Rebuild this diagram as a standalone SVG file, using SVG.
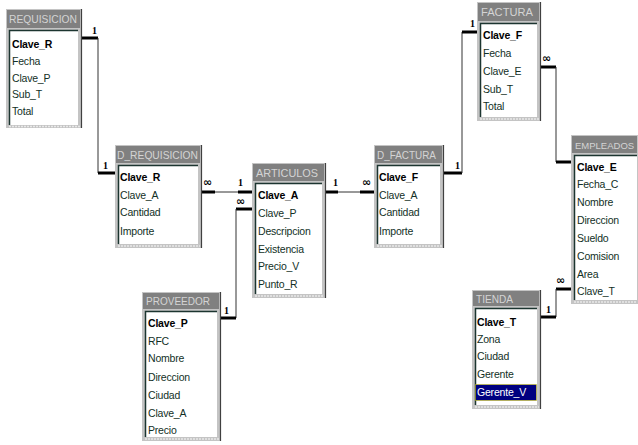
<svg xmlns="http://www.w3.org/2000/svg" width="638" height="445" viewBox="0 0 638 445">
<style>
.frame{fill:#c4c4c4}
.tbar{fill:#808080}
.ttl{font-family:"Liberation Sans",Arial,sans-serif;font-size:10.5px;fill:#d4d4d4}
.list{fill:#ffffff}
.sunk{fill:none;stroke:#1c3530;stroke-width:1.5}
.shadow{stroke:#404040;stroke-width:1.2}
.btm{stroke:#e8e8e8;stroke-width:1.5;stroke-dasharray:2,1}
.f{font-family:"Liberation Sans",Arial,sans-serif;font-size:10.5px;fill:#123026;letter-spacing:-0.2px}
.k{font-weight:bold;fill:#000}
.thick{stroke:#000;stroke-width:3;fill:none}
.thin{stroke:#333;stroke-width:1;fill:none}
.one{font-family:"Liberation Serif","Times New Roman",serif;font-size:10px;font-weight:bold;fill:#000}
.inf{font-family:"DejaVu Sans",sans-serif;font-size:11px;font-weight:bold;fill:#000}
</style>
<rect width="638" height="445" fill="#ffffff"/>

<g id="connectors">
  <path class="thick" d="M81 38H98"/>
  <path class="thin" d="M98 38V173"/>
  <path class="thick" d="M98 173H115"/>
  <text class="one" x="92" y="34">1</text>
  <text class="one" x="103" y="169">1</text>
  <path class="thick" d="M201 192H215"/>
  <path class="thin" d="M215 192H238"/>
  <path class="thick" d="M238 192H253"/>
  <text class="inf" x="203" y="186">∞</text>
  <text class="one" x="238" y="186">1</text>
  <path class="thick" d="M236 209H253"/>
  <path class="thin" d="M236 209V318"/>
  <path class="thick" d="M220 318H236"/>
  <text class="inf" x="236" y="205">∞</text>
  <text class="one" x="224" y="314">1</text>
  <path class="thick" d="M325 192H338"/>
  <path class="thin" d="M338 192H360"/>
  <path class="thick" d="M360 192H375"/>
  <text class="one" x="333" y="186">1</text>
  <text class="inf" x="362" y="186">∞</text>
  <path class="thick" d="M444 173H462"/>
  <path class="thin" d="M462 173V32"/>
  <path class="thick" d="M462 32H478"/>
  <text class="one" x="455" y="169">1</text>
  <text class="one" x="470" y="27">1</text>
  <path class="thick" d="M540 67H556"/>
  <path class="thin" d="M556 67V162"/>
  <path class="thick" d="M556 162H572"/>
  <text class="inf" x="542" y="62">∞</text>
  <path class="thick" d="M556 289H572"/>
  <path class="thin" d="M556 289V317"/>
  <path class="thick" d="M540 317H556"/>
  <text class="inf" x="556" y="284">∞</text>
  <text class="one" x="546" y="313">1</text>
</g>

<g id="requisicion">
  <rect class="frame" x="6" y="9" width="76" height="119"/>
  <rect class="tbar" x="7" y="10" width="73" height="18"/>
  <text class="ttl" x="9" y="23" textLength="68" lengthAdjust="spacingAndGlyphs">REQUISICION</text>
  <rect class="list" x="9" y="30" width="69" height="95"/>
  <path class="sunk" d="M9.5 125V30.5H78"/>
  <line class="shadow" x1="81.5" y1="9" x2="81.5" y2="128"/>
  <line class="btm" x1="9" y1="126.5" x2="80" y2="126.5"/>
  <text class="f k" x="12" y="48">Clave_R</text>
  <text class="f" x="12" y="65">Fecha</text>
  <text class="f" x="12" y="82">Clave_P</text>
  <text class="f" x="12" y="98">Sub_T</text>
  <text class="f" x="12" y="115">Total</text>
</g>

<g id="d_requisicion">
  <rect class="frame" x="115" y="145" width="87" height="103"/>
  <rect class="tbar" x="116" y="146" width="84" height="17"/>
  <text class="ttl" x="117" y="159" textLength="81" lengthAdjust="spacingAndGlyphs">D_REQUISICION</text>
  <rect class="list" x="118" y="165" width="80" height="79"/>
  <path class="sunk" d="M118.5 244V165.5H198"/>
  <line class="shadow" x1="201.5" y1="145" x2="201.5" y2="248"/>
  <line class="btm" x1="118" y1="246" x2="200" y2="246"/>
  <text class="f k" x="120" y="181">Clave_R</text>
  <text class="f" x="120" y="199">Clave_A</text>
  <text class="f" x="120" y="216">Cantidad</text>
  <text class="f" x="120" y="235">Importe</text>
</g>

<g id="articulos">
  <rect class="frame" x="252" y="163" width="74" height="135"/>
  <rect class="tbar" x="253" y="164" width="71" height="17"/>
  <text class="ttl" x="256" y="177" textLength="62" lengthAdjust="spacingAndGlyphs">ARTICULOS</text>
  <rect class="list" x="255" y="183" width="67" height="111"/>
  <path class="sunk" d="M255.5 294V183.5H322"/>
  <line class="shadow" x1="325.5" y1="163" x2="325.5" y2="298"/>
  <line class="btm" x1="255" y1="296" x2="324" y2="296"/>
  <text class="f k" x="258" y="199">Clave_A</text>
  <text class="f" x="258" y="217">Clave_P</text>
  <text class="f" x="258" y="235">Descripcion</text>
  <text class="f" x="258" y="253">Existencia</text>
  <text class="f" x="258" y="270">Precio_V</text>
  <text class="f" x="258" y="288">Punto_R</text>
</g>

<g id="proveedor">
  <rect class="frame" x="142" y="292" width="79" height="149"/>
  <rect class="tbar" x="143" y="293" width="76" height="16"/>
  <text class="ttl" x="146" y="305" textLength="64" lengthAdjust="spacingAndGlyphs">PROVEEDOR</text>
  <rect class="list" x="145" y="311" width="72" height="126"/>
  <path class="sunk" d="M145.5 437V311.5H217"/>
  <line class="shadow" x1="220.5" y1="292" x2="220.5" y2="441"/>
  <line class="btm" x1="145" y1="439" x2="219" y2="439"/>
  <text class="f k" x="148" y="327">Clave_P</text>
  <text class="f" x="148" y="345">RFC</text>
  <text class="f" x="148" y="362">Nombre</text>
  <text class="f" x="148" y="381">Direccion</text>
  <text class="f" x="148" y="399">Ciudad</text>
  <text class="f" x="148" y="417">Clave_A</text>
  <text class="f" x="148" y="434">Precio</text>
</g>

<g id="d_factura">
  <rect class="frame" x="374" y="145" width="70" height="103"/>
  <rect class="tbar" x="375" y="146" width="67" height="17"/>
  <text class="ttl" x="377" y="159" textLength="59" lengthAdjust="spacingAndGlyphs">D_FACTURA</text>
  <rect class="list" x="377" y="165" width="63" height="79"/>
  <path class="sunk" d="M377.5 244V165.5H440"/>
  <line class="shadow" x1="443.5" y1="145" x2="443.5" y2="248"/>
  <line class="btm" x1="377" y1="246" x2="442" y2="246"/>
  <text class="f k" x="379" y="181">Clave_F</text>
  <text class="f" x="379" y="199">Clave_A</text>
  <text class="f" x="379" y="216">Cantidad</text>
  <text class="f" x="379" y="235">Importe</text>
</g>

<g id="factura">
  <rect class="frame" x="477" y="2" width="64" height="119"/>
  <rect class="tbar" x="478" y="3" width="61" height="18"/>
  <text class="ttl" x="481" y="16" textLength="52" lengthAdjust="spacingAndGlyphs">FACTURA</text>
  <rect class="list" x="480" y="23" width="57" height="94"/>
  <path class="sunk" d="M480.5 117V23.5H537"/>
  <line class="shadow" x1="540.5" y1="2" x2="540.5" y2="121"/>
  <line class="btm" x1="480" y1="119" x2="539" y2="119"/>
  <text class="f k" x="483" y="39">Clave_F</text>
  <text class="f" x="483" y="57">Fecha</text>
  <text class="f" x="483" y="75">Clave_E</text>
  <text class="f" x="483" y="93">Sub_T</text>
  <text class="f" x="483" y="110">Total</text>
</g>

<g id="empleados">
  <rect class="frame" x="571" y="135" width="67" height="169"/>
  <rect class="tbar" x="572" y="136" width="65" height="17"/>
  <text class="ttl" x="575" y="149" style="font-size:9.5px">EMPLEADOS</text>
  <rect class="list" x="574" y="155" width="63" height="145"/>
  <path class="sunk" d="M574.5 300V155.5H637"/>
  <line class="btm" x1="574" y1="302" x2="637" y2="302"/>
  <text class="f k" x="577" y="171">Clave_E</text>
  <text class="f" x="577" y="188">Fecha_C</text>
  <text class="f" x="577" y="206">Nombre</text>
  <text class="f" x="577" y="224">Direccion</text>
  <text class="f" x="577" y="242">Sueldo</text>
  <text class="f" x="577" y="260">Comision</text>
  <text class="f" x="577" y="278">Area</text>
  <text class="f" x="577" y="295">Clave_T</text>
</g>

<g id="tienda">
  <rect class="frame" x="472" y="290" width="69" height="119"/>
  <rect class="tbar" x="473" y="291" width="66" height="15"/>
  <text class="ttl" x="476" y="303" textLength="37" lengthAdjust="spacingAndGlyphs">TIENDA</text>
  <rect class="list" x="475" y="308" width="62" height="97"/>
  <path class="sunk" d="M475.5 405V308.5H537"/>
  <line class="shadow" x1="540.5" y1="290" x2="540.5" y2="409"/>
  <line class="btm" x1="475" y1="407" x2="539" y2="407"/>
  <text class="f k" x="477" y="326">Clave_T</text>
  <text class="f" x="477" y="343">Zona</text>
  <text class="f" x="477" y="360">Ciudad</text>
  <text class="f" x="477" y="378">Gerente</text>
  <rect x="475.5" y="384.5" width="61" height="16" fill="#000080" stroke="#e8e000" stroke-width="1" stroke-dasharray="1,1"/>
  <text class="f" x="477" y="396" style="fill:#ffffff">Gerente_V</text>
</g>
</svg>
